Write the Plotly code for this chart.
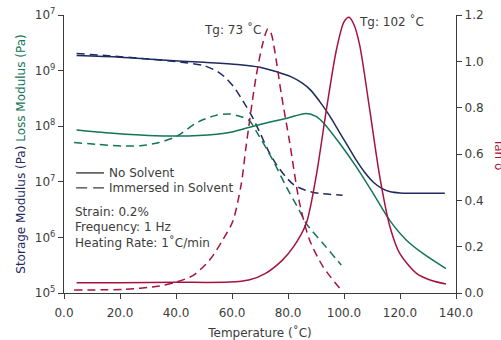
import plotly.graph_objects as go

# Temperature sweeps (°C) and measured responses
temp_storage_dry = [4.5, 20, 35, 50, 62, 70, 76, 81, 85, 88, 92, 95, 98.5, 101.5,
                    104.5, 107.5, 110.5, 113.5, 116.5, 120, 130, 136]
storage_dry = [1.86e9, 1.74e9, 1.55e9, 1.41e9, 1.29e9, 1.15e9, 9.5e8, 7.8e8, 6.0e8,
               4.5e8, 2.5e8, 1.5e8, 7.6e7, 4.3e7, 2.4e7, 1.45e7, 9.8e6, 7.6e6,
               6.6e6, 6.3e6, 6.2e6, 6.2e6]

temp_storage_wet = [4.5, 15, 30, 42, 50, 55, 58, 61, 64, 67, 70, 73, 76, 79, 82,
                    86, 91, 99.5]
storage_wet = [2.04e9, 1.86e9, 1.62e9, 1.41e9, 1.23e9, 9.5e8, 7.2e8, 4.8e8, 2.8e8,
               1.55e8, 7.6e7, 3.6e7, 2.0e7, 1.26e7, 8.9e6, 7.1e6, 6.2e6, 5.75e6]

temp_loss_dry = [4.5, 15, 30, 48, 60, 66, 74, 80, 86.5, 90, 93, 98.5, 104.4, 110.4,
                 116.4, 122.3, 128.3, 136.4]
loss_dry = [8.5e7, 7.6e7, 6.8e7, 6.8e7, 7.9e7, 9.5e7, 1.2e8, 1.41e8, 1.7e8, 1.5e8,
            1.1e8, 4.9e7, 1.86e7, 6.2e6, 2.0e6, 8.9e5, 5.1e5, 2.75e5]

temp_loss_wet = [3.6, 12, 22, 28, 34, 40, 48, 54, 59, 63.8, 66.2, 69.8, 74.6, 79.4,
                 84, 86.5, 92.5, 99]
loss_wet = [5.1e7, 4.7e7, 4.4e7, 4.5e7, 5.1e7, 6.5e7, 1.2e8, 1.55e8, 1.66e8, 1.45e8,
            1.26e8, 6.5e7, 2.45e7, 8.1e6, 3.1e6, 1.78e6, 7.8e5, 3.2e5]

temp_tan_dry = [4.5, 20, 40, 59, 66, 72, 78, 82, 86.5, 90, 93.7, 97.3, 100, 101.8,
                103.5, 105.6, 109.2, 112.8, 116.4, 119.9, 125.9, 131, 136.4]
tan_dry = [0.044, 0.044, 0.046, 0.047, 0.056, 0.085, 0.142, 0.20, 0.30, 0.50, 0.79,
           1.05, 1.17, 1.19, 1.16, 1.07, 0.79, 0.50, 0.286, 0.171, 0.085, 0.055, 0.039]

temp_tan_wet = [3.6, 22, 34, 40, 46, 52, 56.7, 60.3, 63.3, 65, 68.6, 71, 72.8, 74,
                75.2, 77.6, 80.6, 84.1, 87.7, 92.5, 99]
tan_wet = [0.013, 0.016, 0.030, 0.047, 0.075, 0.142, 0.229, 0.31, 0.47, 0.63, 0.934,
           1.078, 1.14, 1.12, 1.05, 0.86, 0.65, 0.39, 0.229, 0.114, 0.013]

x_ticks = [0, 20, 40, 60, 80, 100, 120, 140]
y_ticks = [1e5, 1e6, 1e7, 1e8, 1e9, 1e10]
y_ticktext = ["10<sup>5</sup>", "10<sup>6</sup>", "10<sup>7</sup>", "10<sup>8</sup>",
              "10<sup>9</sup>", "10<sup>7</sup>"]
tan_ticks = [0.0, 0.2, 0.4, 0.6, 0.8, 1.0, 1.2]

NAVY = "#1f2b5e"
GREEN = "#137556"
CRIMSON = "#a5143f"
INK = "#3c3c3c"
FONT = "DejaVu Sans"
DASH = "8px,5px"
LW = 1.5

fig = go.Figure()


def add_curve(x, y, color, dash, axis="y"):
    fig.add_trace(go.Scatter(
        x=x, y=y, mode="lines", yaxis=axis, showlegend=False, hoverinfo="skip",
        line=dict(color=color, width=LW, dash=dash, shape="spline", smoothing=0.8)))


add_curve(temp_storage_dry, storage_dry, NAVY, "solid")
add_curve(temp_storage_wet, storage_wet, NAVY, DASH)
add_curve(temp_loss_dry, loss_dry, GREEN, "solid")
add_curve(temp_loss_wet, loss_wet, GREEN, DASH)
add_curve(temp_tan_dry, tan_dry, CRIMSON, "solid", "y2")
add_curve(temp_tan_wet, tan_wet, CRIMSON, DASH, "y2")

axis_common = dict(showline=True, linecolor=INK, linewidth=1.3, ticks="outside",
                   ticklen=5, tickcolor=INK, tickwidth=1.2, showgrid=False,
                   zeroline=False, automargin=False,
                   tickfont=dict(family=FONT, size=12, color=INK))

fig.update_layout(
    width=501, height=340,
    margin=dict(l=64, r=45, t=15, b=47),
    paper_bgcolor="white", plot_bgcolor="white",
    font=dict(family=FONT, size=12, color=INK),
    xaxis=dict(range=[0, 140], tickvals=x_ticks, tickformat=".1f",
               ticklabelstandoff=3,
               title=dict(text="Temperature (˚C)", standoff=12,
                          font=dict(family=FONT, size=12, color=INK)),
               **axis_common),
    yaxis=dict(type="log", range=[5, 10], tickvals=y_ticks, ticktext=y_ticktext,
               title=dict(text=(f"<span style='color:{NAVY}'>Storage Modulus (Pa)</span> "
                                f"<span style='color:{GREEN}'>Loss Modulus (Pa)</span>"),
                          standoff=6, font=dict(family=FONT, size=12)),
               **axis_common),
    yaxis2=dict(overlaying="y", side="right", range=[0, 1.2], tickvals=tan_ticks,
                tickformat=".1f", **axis_common),
)

# Glass transition labels at the tan δ peaks
i_wet = tan_wet.index(max(tan_wet))
i_dry = tan_dry.index(max(tan_dry))
fig.add_annotation(x=temp_tan_wet[i_wet], y=tan_wet[i_wet], xref="x", yref="y2",
                   text="Tg: 73 ˚C", showarrow=False, xanchor="right",
                   yanchor="middle", xshift=-5, yshift=-1,
                   font=dict(family=FONT, size=12, color=INK))
fig.add_annotation(x=temp_tan_dry[i_dry], y=tan_dry[i_dry], xref="x", yref="y2",
                   text="Tg: 102 ˚C", showarrow=False, xanchor="left",
                   yanchor="middle", xshift=8, yshift=-4,
                   font=dict(family=FONT, size=12, color=INK))

# Right-hand axis title
fig.add_annotation(x=1.11, y=0.5, xref="paper", yref="paper", text="Tan δ",
                   showarrow=False, textangle=90, xanchor="center", yanchor="middle",
                   font=dict(family=FONT, size=12, color=CRIMSON))

# Line-style key
key_rows = [("No Solvent", "solid", 0.432), ("Immersed in Solvent", "dash", 0.378)]
for label, style, yk in key_rows:
    fig.add_shape(type="line", xref="paper", yref="paper", x0=0.031, x1=0.102,
                  y0=yk, y1=yk, line=dict(color=INK, width=1.4,
                                          dash="solid" if style == "solid" else "11px,6px"))
    fig.add_annotation(x=0.110, y=yk, xref="paper", yref="paper", text=label,
                       showarrow=False, xanchor="left", yanchor="middle",
                       font=dict(family=FONT, size=12, color=INK))

conditions = ["Strain: 0.2%", "Frequency: 1 Hz", "Heating Rate: 1˚C/min"]
for k, line in enumerate(conditions):
    fig.add_annotation(x=0.024, y=0.291 - k * 0.054, xref="paper", yref="paper",
                       text=line, showarrow=False, xanchor="left", yanchor="middle",
                       font=dict(family=FONT, size=12, color=INK))

fig.write_html("out.html")
